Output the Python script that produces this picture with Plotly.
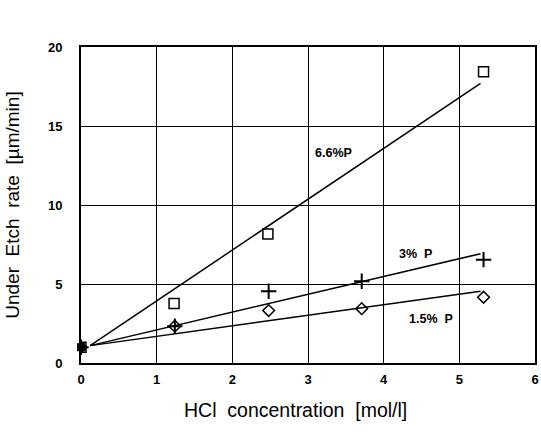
import plotly.graph_objects as go

# measured points
hcl_66 = [0.0, 1.23, 2.47, 5.32]
rate_66 = [1.0, 3.76, 8.16, 18.43]
hcl_3 = [0.0, 1.24, 2.48, 3.71, 5.32]
rate_3 = [1.0, 2.33, 4.54, 5.17, 6.54]
hcl_15 = [0.0, 1.24, 2.48, 3.71, 5.32]
rate_15 = [1.0, 2.33, 3.32, 3.44, 4.16]

# fitted trend lines (endpoints)
fit_x = [0.12, 5.28]
fit_66 = [1.1, 17.7]
fit_3 = [1.1, 6.92]
fit_15 = [1.1, 4.54]

labels = ["6.6%P", "3%  P", "1.5%  P"]
label_x = [3.34, 4.42, 4.62]
label_y = [13.3, 6.92, 2.81]

FONT = "Liberation Sans, Arial, Helvetica"
PW, PH = 454, 316.5  # plot area size in px

fig = go.Figure()
for fy in [fit_66, fit_3, fit_15]:
    fig.add_trace(go.Scatter(x=fit_x, y=fy, mode="lines",
                             line=dict(color="black", width=1.5), showlegend=False))
fig.add_trace(go.Scatter(x=hcl_66, y=rate_66, mode="markers",
                         marker=dict(symbol="square-open", size=10, color="black",
                                     line=dict(width=1.5)), showlegend=False))
fig.add_trace(go.Scatter(x=hcl_3, y=rate_3, mode="markers",
                         marker=dict(symbol="cross-thin", size=11, color="black",
                                     line=dict(width=2, color="black")), showlegend=False))
fig.add_trace(go.Scatter(x=hcl_15, y=rate_15, mode="markers",
                         marker=dict(symbol="diamond-open", size=9, color="black",
                                     line=dict(width=1.5)), showlegend=False))
# filled origin marker
fig.add_trace(go.Scatter(x=[hcl_66[0]], y=[rate_66[0]], mode="markers",
                         marker=dict(symbol="square", size=8, color="black"),
                         showlegend=False, cliponaxis=False))

for t, x, y in zip(labels, label_x, label_y):
    fig.add_annotation(x=x, y=y, text=t, showarrow=False,
                       font=dict(family=FONT, size=12.5, color="black", weight="bold"))

# axis titles
fig.add_annotation(xref="paper", yref="paper", x=(295.5 - 81) / PW, y=-(411 - 363.5) / PH,
                   text="HCl  concentration  [mol/l]", showarrow=False,
                   xanchor="center", yanchor="middle",
                   font=dict(family=FONT, size=19.5, color="black"))
fig.add_annotation(xref="paper", yref="paper", x=-(81 - 13) / PW, y=0.5 - (206 - 205.25) / PH,
                   text="Under  Etch  rate  [µm/min]", showarrow=False, textangle=-90,
                   xanchor="center", yanchor="middle",
                   font=dict(family=FONT, size=19, color="black"))

tickfont = dict(size=13, family=FONT, color="black", weight="bold")
fig.update_layout(
    width=541, height=442,
    margin=dict(l=81, r=6, t=47, b=78.5, autoexpand=False),
    paper_bgcolor="white", plot_bgcolor="white",
    font=dict(family=FONT, color="black"),
    xaxis=dict(range=[0, 6], dtick=1, showgrid=True, gridcolor="black", gridwidth=1,
               showline=True, linecolor="black", linewidth=2, mirror=True,
               zeroline=False, ticks="", tickfont=tickfont, automargin=False,
               ticklabelstandoff=3),
    yaxis=dict(range=[0, 20], dtick=5, showgrid=True, gridcolor="black", gridwidth=1,
               showline=True, linecolor="black", linewidth=2, mirror=True,
               zeroline=False, ticks="", tickfont=tickfont, automargin=False,
               ticklabelstandoff=14),
)
# remove the browser's default 8px body margin so the figure fills the window
fig.write_html("out.html", config={"displayModeBar": False},
               post_script="document.body.style.margin='0';document.body.style.overflow='hidden';")
